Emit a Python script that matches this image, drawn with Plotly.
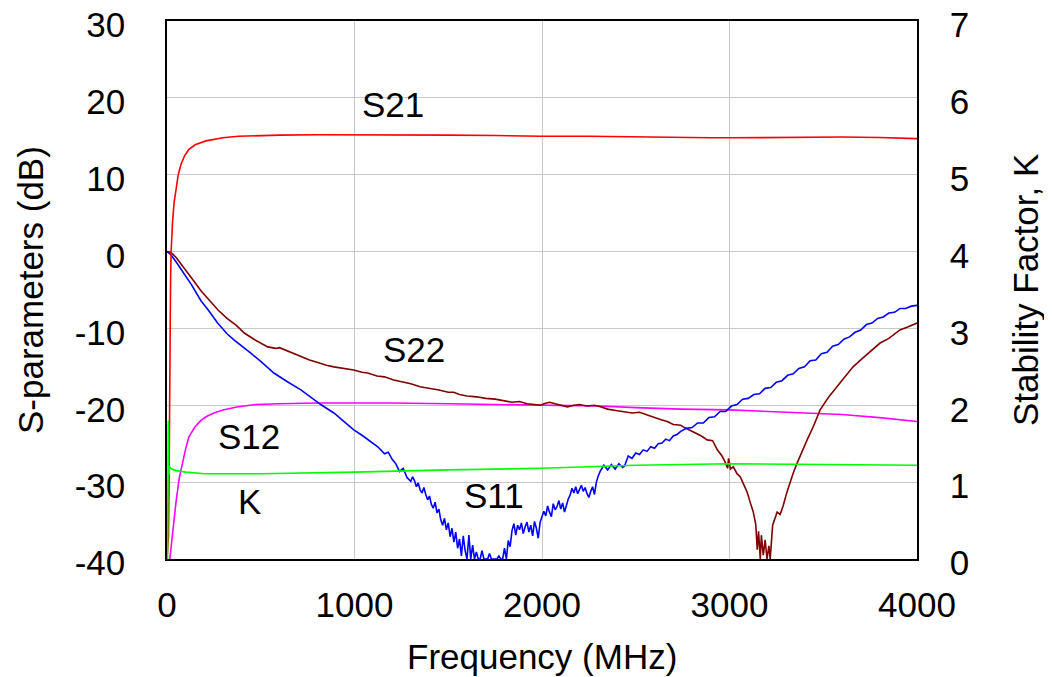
import plotly.graph_objects as go

# ---------------- data ----------------
s21_f = [0, 8, 11, 13, 16, 19, 22, 26, 30, 38, 48, 60, 75, 95, 117, 150, 208, 298, 380, 474, 600,
         800, 1000, 1250, 1500, 1750, 2000, 2250, 2500, 2750, 2900, 3000, 3200, 3400, 3600, 3800, 4000]
s21_db = [-40, -37, -30, -20, -10, -4, 0.0, 2.5, 4.0, 6.4, 8.3, 10.0, 11.4, 12.5, 13.3, 13.9, 14.4, 14.8, 15.0, 15.1, 15.15,
          15.2, 15.2, 15.2, 15.15, 15.1, 15.0, 15.0, 14.9, 14.85, 14.8, 14.8, 14.85, 14.9, 14.9, 14.85, 14.7]

s11_f = [0, 20, 50, 92, 130, 181, 220, 270, 320, 357, 400, 447, 500, 570, 640, 714, 770, 820, 890, 940,
         996, 1040, 1080, 1124, 1140, 1160, 1180, 1200, 1220, 1240, 1260, 1280,
         1300, 1310, 1320, 1330, 1340, 1350, 1360, 1370, 1380, 1390, 1400, 1410, 1420, 1430, 1440, 1450,
         1460, 1470, 1480, 1490, 1500, 1510, 1520, 1530, 1540, 1550, 1560, 1570, 1580, 1590, 1600, 1610,
         1620, 1630, 1640, 1650, 1660, 1670, 1680, 1690, 1700, 1710, 1720, 1730, 1740, 1750, 1760, 1770,
         1780, 1790, 1800, 1810, 1820, 1830, 1840, 1850, 1860, 1870, 1880, 1890, 1900, 1910, 1920, 1930,
         1940, 1950, 1960, 1970, 1980, 1990, 2000, 2010, 2020, 2030, 2040, 2050, 2060, 2070, 2080, 2090,
         2100, 2110, 2120, 2130, 2140, 2150, 2160, 2170, 2180, 2190, 2200, 2210, 2220, 2230, 2240, 2250,
         2260, 2270, 2280, 2290, 2300, 2310, 2330, 2350, 2370, 2390, 2410, 2430, 2440, 2460, 2480,
         2500, 2520, 2540, 2560, 2580, 2600, 2620, 2640, 2660, 2680, 2700, 2720, 2740, 2770, 2800, 2830,
         2860, 2890, 2920, 2950, 2980, 3010, 3040, 3070, 3100, 3130, 3160, 3190, 3220, 3250, 3280, 3310,
         3340, 3370, 3400, 3430, 3460, 3490, 3520, 3550, 3580, 3610, 3640, 3670, 3700, 3730, 3760, 3790,
         3820, 3850, 3880, 3910, 3940, 3970, 4000]
s11_db = [0.0, -0.4, -1.4, -2.9, -4.3, -6.4, -7.6, -9.3, -10.7, -11.5, -12.3, -13.2, -14.3, -15.8, -16.9, -18.0, -19.0, -19.9, -21.0, -22.0,
          -23.2, -23.9, -24.6, -25.4, -25.8, -26.3, -26.1, -27.0, -27.6, -28.6, -28.2, -29.4,
          -29.9, -29.3, -29.8, -30.6, -30.1, -31.0, -31.4, -30.7, -31.6, -32.3, -31.8, -32.9, -33.4, -32.6, -34.0, -33.5,
          -34.9, -35.6, -34.7, -36.2, -35.3, -37.1, -36.0, -37.8, -36.5, -38.6, -37.4, -39.6, -37.0, -38.9, -40.0, -36.9,
          -40.0, -38.2, -40.0, -39.1, -40.0, -40.0, -38.9, -40.0, -40.0, -40.0, -39.3, -40.0, -40.0, -40.0, -40.0, -39.6,
          -40.0, -40.0, -38.6, -40.0, -37.6, -38.4, -36.3, -35.4, -36.9, -35.6, -36.2, -35.3, -36.7, -35.8, -35.2, -36.5,
          -35.6, -37.0, -35.1, -36.0, -37.3, -35.2, -34.6, -33.8, -34.4, -33.1, -33.9, -34.5, -32.8, -33.6, -33.2, -32.4,
          -33.5, -32.7, -33.9, -33.0, -32.2, -31.7, -30.8, -31.4, -30.6, -31.5, -30.9, -30.4, -31.2, -30.7, -31.5, -32.0,
          -31.2, -30.6, -31.6, -30.0, -29.2, -28.6, -27.8, -28.4, -27.7, -28.3, -27.6, -28.1, -27.9, -26.6, -26.9,
          -26.2, -26.4, -25.8, -26.0, -25.4, -25.6, -25.0, -24.9, -24.4, -24.6, -24.0, -23.8, -23.4, -23.0, -22.9, -22.3,
          -22.3, -21.6, -21.5, -20.8, -20.8, -20.1, -19.9, -19.2, -19.1, -18.6, -18.5, -17.8, -17.7, -17.0, -16.8, -16.1,
          -15.9, -15.2, -15.0, -14.2, -14.1, -13.3, -13.1, -12.3, -12.1, -11.4, -11.1, -10.5, -10.2, -9.5, -9.3, -8.7,
          -8.5, -8.0, -7.9, -7.4, -7.4, -7.1, -7.0]

s22_f = [0, 20, 50, 92, 130, 181, 220, 272, 320, 370, 412, 470, 537, 580, 600, 620, 660, 714, 760, 800,
         850, 890, 940, 996, 1040, 1070, 1120, 1160, 1209, 1262, 1300, 1350, 1400, 1450, 1500, 1529, 1560,
         1600, 1650, 1700, 1750, 1795, 1840, 1880, 1920, 1960, 1992, 2010, 2040, 2070, 2100, 2136, 2170,
         2200, 2240, 2280, 2312, 2350, 2402, 2440, 2480, 2520, 2560, 2600, 2640, 2668, 2700, 2740, 2760,
         2791, 2820, 2850, 2881, 2910, 2935, 2960, 2975, 2990, 2995, 3005, 3020, 3040, 3057, 3075, 3094,
         3110, 3127, 3140, 3148, 3155, 3164, 3170, 3180, 3190, 3200, 3210, 3217, 3230, 3240, 3254, 3270,
         3286, 3305, 3323, 3340, 3361, 3385, 3414, 3450, 3483, 3530, 3574, 3620, 3659, 3700, 3750, 3803,
         3850, 3909, 3950, 4000]
s22_db = [0.0, -0.1, -0.8, -2.1, -3.4, -5.1, -6.2, -7.6, -8.7, -9.6, -10.6, -11.5, -12.4, -12.6, -12.5, -12.7, -13.2, -13.7, -14.1, -14.4,
          -14.8, -15.0, -15.2, -15.4, -15.7, -15.8, -16.2, -16.3, -16.7, -17.0, -17.2, -17.6, -17.8, -18.0, -18.3, -18.3, -18.6,
          -18.8, -18.9, -19.1, -19.2, -19.4, -19.6, -19.5, -19.8, -19.9, -20.0, -19.8, -19.6, -19.8, -20.0, -20.2, -20.0,
          -19.9, -20.1, -20.0, -20.2, -20.5, -20.7, -20.8, -21.0, -20.9, -21.3, -21.6, -21.9, -22.1, -22.5, -22.6, -22.9,
          -23.3, -23.6, -24.0, -24.5, -24.6, -25.8, -26.6, -27.3, -28.2, -26.9, -28.3, -28.0, -28.9, -29.3, -30.2, -31.3,
          -32.6, -33.9, -35.5, -38.8, -36.4, -40.0, -36.9, -39.5, -37.5, -40.0, -38.3, -40.0, -35.6, -35.0, -33.9, -34.2,
          -33.1, -31.4, -30.0, -28.8, -27.5, -26.1, -24.5, -22.6, -20.6, -18.9, -17.6, -16.2, -15.0, -14.1, -13.0, -11.9,
          -11.3, -10.2, -9.8, -9.3]

s12_f = [15, 25, 35, 48, 65, 85, 100, 117, 150, 180, 208, 250, 298, 380, 474, 600, 800, 1000, 1200, 1500,
         1779, 2000, 2300, 2500, 2738, 3000, 3200, 3446, 3600, 3800, 4000]
s12_db = [-40, -37.5, -35.0, -32.6, -29.5, -27.1, -25.6, -24.1, -22.8, -22.0, -21.5, -21.0, -20.6, -20.2, -19.9, -19.8, -19.7, -19.7, -19.7, -19.8,
          -19.9, -20.0, -20.1, -20.3, -20.5, -20.6, -20.8, -21.0, -21.2, -21.6, -22.1]

k_f = [3, 5, 7, 9, 11, 14, 25, 50, 100, 200, 500, 1000, 1500, 2000, 2500, 3000, 3500, 4000]
k_val = [0.0, 1.8, 1.8, 1.15, 1.1, 1.2, 1.17, 1.15, 1.13, 1.11, 1.11, 1.13, 1.16, 1.18, 1.22, 1.24, 1.23, 1.22]

x_ticks = [0, 1000, 2000, 3000, 4000]
y_ticks = [-40, -30, -20, -10, 0, 10, 20, 30]
y_tick_text = ["-40", "-30", "-20", "-10", "0", "10", "20", "30"]
k_ticks = [0, 1, 2, 3, 4, 5, 6, 7]

labels = ["S21", "S22", "S12", "K", "S11"]
label_f = [1204, 1316, 437, 440, 1742]
label_db = [19.1, -12.8, -24.0, -32.5, -31.8]

# ---------------- figure ----------------
FONT = "Liberation Sans, Arial, sans-serif"
FS = 35
OFF = 8  # page body margin offset
L, R, T, B = 167 - OFF, 135, 21 - OFF, 118
W, H = 1052 - OFF, 677 - OFF
PW, PH = W - L - R, H - T - B

fig = go.Figure()
lw = 1.6
fig.add_trace(go.Scatter(x=k_f, y=k_val, yaxis="y2", mode="lines", line=dict(color="#00ff00", width=lw)))
fig.add_trace(go.Scatter(x=s12_f, y=s12_db, mode="lines", line=dict(color="#ff00ff", width=lw)))
fig.add_trace(go.Scatter(x=s22_f, y=s22_db, mode="lines", line=dict(color="#800000", width=lw)))
fig.add_trace(go.Scatter(x=s11_f, y=s11_db, mode="lines", line=dict(color="#0000ff", width=lw)))
fig.add_trace(go.Scatter(x=s21_f, y=s21_db, mode="lines", line=dict(color="#ff0000", width=lw)))

for t, xf, yd in zip(labels, label_f, label_db):
    fig.add_annotation(x=xf, y=yd, xref="x", yref="y", text=t, showarrow=False,
                       xanchor="center", yanchor="middle",
                       font=dict(size=FS, color="black", family=FONT))

title_font = dict(size=FS, color="black", family=FONT)
fig.add_annotation(x=(30 - 167) / PW, y=0.5, xref="paper", yref="paper", text="S-parameters (dB)",
                   textangle=-90, showarrow=False, xanchor="center", yanchor="middle", font=title_font)
fig.add_annotation(x=(1025 - 167) / PW, y=0.5, xref="paper", yref="paper", text="Stability Factor, K",
                   textangle=-90, showarrow=False, xanchor="center", yanchor="middle", font=title_font)
fig.add_annotation(x=0.5, y=-(656 - 559) / PH, xref="paper", yref="paper", text="Frequency (MHz)",
                   showarrow=False, xanchor="center", yanchor="middle", font=title_font)

inv = "rgba(0,0,0,0)"
fig.update_layout(
    width=W, height=H,
    margin=dict(l=L, r=R, t=T, b=B, pad=0),
    paper_bgcolor="white", plot_bgcolor="white",
    showlegend=False,
    font=dict(family=FONT, size=FS, color="black"),
    xaxis=dict(range=[0, 4000], tickvals=x_ticks, showgrid=True, gridcolor="#c8c8c8", gridwidth=1.2,
               showline=True, linecolor="black", linewidth=1.5, mirror=True, zeroline=False,
               ticks="outside", ticklen=14, tickcolor=inv, automargin=False, tickfont=dict(size=FS),
               ticklabeloverflow="allow"),
    yaxis=dict(range=[-40, 30], tickvals=y_ticks, ticktext=y_tick_text, showgrid=True, gridcolor="#c8c8c8",
               gridwidth=1.2, showline=True, linecolor="black", linewidth=1.5, mirror=True, zeroline=False,
               ticks="outside", ticklen=33, tickcolor=inv, automargin=False, tickfont=dict(size=FS),
               ticklabeloverflow="allow", ticklabelshift=4),
    yaxis2=dict(range=[0, 7], tickvals=k_ticks, overlaying="y", side="right", showgrid=False,
                showline=True, linecolor="black", linewidth=1.5, zeroline=False,
                ticks="outside", ticklen=24, tickcolor=inv, automargin=False, tickfont=dict(size=FS),
                ticklabeloverflow="allow", ticklabelshift=4),
)

fig.write_html("out.html")
